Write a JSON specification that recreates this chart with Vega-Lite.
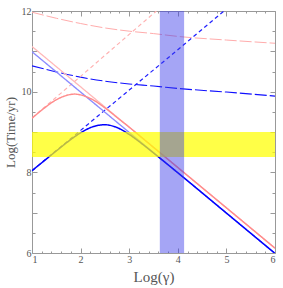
{
  "$schema": "https://vega.github.io/schema/vega-lite/v6.json",
  "width": 243,
  "height": 242,
  "autosize": "none",
  "padding": {"left": 32, "top": 11, "right": 8, "bottom": 35},
  "background": "white",
  "config": {
    "view": {"stroke": null},
    "font": "Liberation Serif",
    "axis": {
      "domainColor": "#999999",
      "tickColor": "#999999",
      "labelColor": "#555555",
      "titleColor": "#555555",
      "labelFont": "Liberation Serif",
      "titleFont": "Liberation Serif",
      "labelFontSize": 10,
      "titleFontWeight": "normal",
      "grid": false,
      "labelOverlap": false
    }
  },
  "datasets": {
    "lines": [
      {"s": "rl", "x": 1, "y": 11.97}, {"s": "rl", "x": 1.5, "y": 11.82}, {"s": "rl", "x": 2, "y": 11.69}, {"s": "rl", "x": 2.5, "y": 11.58}, {"s": "rl", "x": 3, "y": 11.5}, {"s": "rl", "x": 3.5, "y": 11.44}, {"s": "rl", "x": 4, "y": 11.37}, {"s": "rl", "x": 5, "y": 11.28}, {"s": "rl", "x": 6, "y": 11.2},
      {"s": "bl", "x": 1, "y": 10.64}, {"s": "bl", "x": 1.5, "y": 10.49}, {"s": "bl", "x": 2, "y": 10.36}, {"s": "bl", "x": 2.5, "y": 10.26}, {"s": "bl", "x": 3, "y": 10.19}, {"s": "bl", "x": 3.5, "y": 10.14}, {"s": "bl", "x": 4, "y": 10.08}, {"s": "bl", "x": 5, "y": 9.99}, {"s": "bl", "x": 6, "y": 9.89},
      {"s": "rd", "x": 1, "y": 9.35}, {"s": "rd", "x": 2, "y": 10.38}, {"s": "rd", "x": 3, "y": 11.42}, {"s": "rd", "x": 3.56, "y": 12.0},
      {"s": "bd", "x": 1, "y": 8.04}, {"s": "bd", "x": 2, "y": 9.04}, {"s": "bd", "x": 3, "y": 10.04}, {"s": "bd", "x": 4, "y": 11.04}, {"s": "bd", "x": 4.95, "y": 12.0},
      {"s": "rf", "x": 1, "y": 11.12}, {"s": "rf", "x": 2, "y": 10.12}, {"s": "rf", "x": 3, "y": 9.12}, {"s": "rf", "x": 4, "y": 8.12}, {"s": "rf", "x": 5, "y": 7.12}, {"s": "rf", "x": 6, "y": 6.12},
      {"s": "bf", "x": 1, "y": 10.99}, {"s": "bf", "x": 2, "y": 9.99}, {"s": "bf", "x": 3, "y": 8.99}, {"s": "bf", "x": 4, "y": 7.99}, {"s": "bf", "x": 5, "y": 6.99}, {"s": "bf", "x": 6, "y": 5.99},
      {"s": "rs", "x": 1, "y": 9.34}, {"s": "rs", "x": 1.25, "y": 9.59}, {"s": "rs", "x": 1.5, "y": 9.8}, {"s": "rs", "x": 1.75, "y": 9.92}, {"s": "rs", "x": 1.875, "y": 9.94}, {"s": "rs", "x": 2, "y": 9.92}, {"s": "rs", "x": 2.25, "y": 9.8}, {"s": "rs", "x": 2.5, "y": 9.6}, {"s": "rs", "x": 2.75, "y": 9.36}, {"s": "rs", "x": 3, "y": 9.12}, {"s": "rs", "x": 3.5, "y": 8.62}, {"s": "rs", "x": 4, "y": 8.12}, {"s": "rs", "x": 5, "y": 7.12}, {"s": "rs", "x": 6, "y": 6.12},
      {"s": "bs", "x": 1, "y": 8.04}, {"s": "bs", "x": 1.5, "y": 8.53}, {"s": "bs", "x": 1.75, "y": 8.77}, {"s": "bs", "x": 2, "y": 8.98}, {"s": "bs", "x": 2.25, "y": 9.13}, {"s": "bs", "x": 2.5, "y": 9.18}, {"s": "bs", "x": 2.75, "y": 9.11}, {"s": "bs", "x": 3, "y": 8.94}, {"s": "bs", "x": 3.25, "y": 8.72}, {"s": "bs", "x": 3.5, "y": 8.48}, {"s": "bs", "x": 4, "y": 7.99}, {"s": "bs", "x": 5, "y": 6.99}, {"s": "bs", "x": 6, "y": 5.99}
    ],
    "yellow": [{"x": 1, "x2": 6, "y": 8.38, "y2": 9.0}],
    "band": [{"x": 3.63, "x2": 4.13, "y": 6, "y2": 12}]
  },
  "resolve": {"axis": {"x": "independent", "y": "independent"}},
  "layer": [
    {
      "data": {"name": "lines"},
      "mark": {"type": "line", "interpolate": "monotone", "clip": true},
      "encoding": {
        "x": {"field": "x", "type": "quantitative", "scale": {"domain": [1, 6], "nice": false, "zero": false},
          "axis": {"orient": "bottom", "title": "Log(γ)", "titleFontSize": 15, "titlePadding": 2,
            "values": [1,1.2,1.4,1.6,1.8,2,2.2,2.4,2.6,2.8,3,3.2,3.4,3.6,3.8,4,4.2,4.4,4.6,4.8,5,5.2,5.4,5.6,5.8,6],
            "labelExpr": "datum.value % 1 == 0 ? format(datum.value, 'd') : ''",
            "tickSize": {"condition": {"test": "datum.value % 1 == 0", "value": -5}, "value": -2},
            "labelPadding": 6}},
        "y": {"field": "y", "type": "quantitative", "scale": {"domain": [6, 12], "nice": false, "zero": false},
          "axis": {"orient": "left", "title": "Log(Time/yr)", "titleFontSize": 13, "titlePadding": 4,
            "values": [6,6.5,7,7.5,8,8.5,9,9.5,10,10.5,11,11.5,12],
            "labelExpr": "datum.value % 2 == 0 ? format(datum.value, 'd') : ''",
            "tickSize": {"condition": {"test": "datum.value % 1 == 0", "value": -5}, "value": -3},
            "labelPadding": 6}},
        "detail": {"field": "s"},
        "color": {"field": "s", "type": "nominal", "legend": null,
          "scale": {"domain": ["rl","bl","rd","bd","rf","bf","rs","bs"],
            "range": ["#ffacac","#1010ff","#ffb0b0","#2020ff","#ffb8b8","#8c8cff","#ff8c8c","#0000ff"]}},
        "strokeDash": {"field": "s", "type": "nominal", "legend": null,
          "scale": {"domain": ["rl","bl","rd","bd","rf","bf","rs","bs"],
            "range": [[12,3],[12,3],[4,3],[4,3],[1,0],[1,0],[1,0],[1,0]]}},
        "strokeWidth": {"field": "s", "type": "nominal", "legend": null,
          "scale": {"domain": ["rl","bl","rd","bd","rf","bf","rs","bs"],
            "range": [1,1.5,1,1.5,0.7,0.7,1,1.6]}}
      }
    },
    {
      "data": {"name": "yellow"},
      "mark": {"type": "rect", "color": "#ffff00", "opacity": 0.72},
      "encoding": {
        "x": {"field": "x", "type": "quantitative",
          "axis": {"orient": "top", "title": null, "labels": false,
            "values": [1,1.2,1.4,1.6,1.8,2,2.2,2.4,2.6,2.8,3,3.2,3.4,3.6,3.8,4,4.2,4.4,4.6,4.8,5,5.2,5.4,5.6,5.8,6],
            "tickSize": {"condition": {"test": "datum.value % 1 == 0", "value": -5}, "value": -2}}},
        "x2": {"field": "x2"},
        "y": {"field": "y", "type": "quantitative",
          "axis": {"orient": "right", "title": null, "labels": false,
            "values": [6,6.5,7,7.5,8,8.5,9,9.5,10,10.5,11,11.5,12],
            "tickSize": {"condition": {"test": "datum.value % 1 == 0", "value": -5}, "value": -3}}},
        "y2": {"field": "y2"}
      }
    },
    {
      "data": {"name": "band"},
      "mark": {"type": "rect", "color": "#3838e9", "opacity": 0.45},
      "encoding": {
        "x": {"field": "x", "type": "quantitative", "axis": null},
        "x2": {"field": "x2"},
        "y": {"field": "y", "type": "quantitative", "axis": null},
        "y2": {"field": "y2"}
      }
    }
  ]
}
